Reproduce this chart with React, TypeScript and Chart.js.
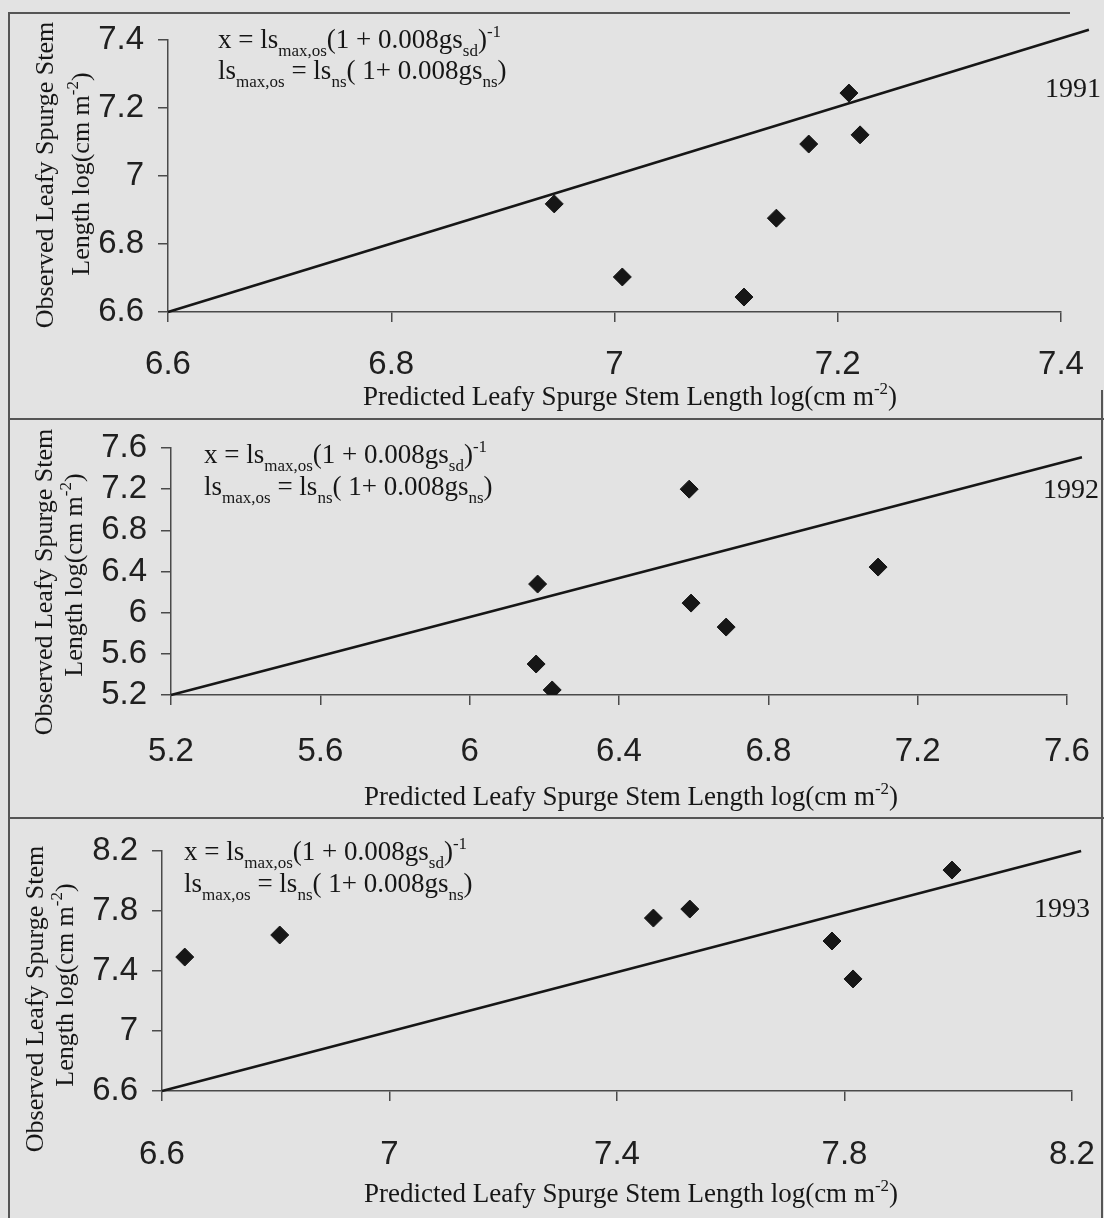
import React, { useEffect, useRef } from 'react';
import { Chart, registerables } from 'chart.js';
Chart.register(...registerables);

// ---------------- data ----------------
const years = ['1991', '1992', '1993'];

const xTicks1991 = [6.6, 6.8, 7, 7.2, 7.4];
const yTicks1991 = [6.6, 6.8, 7, 7.2, 7.4];
const xTicks1992 = [5.2, 5.6, 6, 6.4, 6.8, 7.2, 7.6];
const yTicks1992 = [5.2, 5.6, 6, 6.4, 6.8, 7.2, 7.6];
const xTicks1993 = [6.6, 7, 7.4, 7.8, 8.2];
const yTicks1993 = [6.6, 7, 7.4, 7.8, 8.2];

const predicted1991 = [6.946, 7.007, 7.116, 7.145, 7.174, 7.21, 7.22];
const observed1991 = [6.918, 6.703, 6.644, 6.876, 7.094, 7.244, 7.121];
const predicted1992 = [6.182, 6.178, 6.221, 6.588, 6.593, 6.687, 7.094];
const observed1992 = [6.278, 5.501, 5.249, 7.2, 6.093, 5.86, 6.443];
const predicted1993 = [6.64, 6.807, 7.464, 7.528, 7.778, 7.815, 7.989];
const observed1993 = [7.493, 7.64, 7.753, 7.813, 7.6, 7.347, 8.073];

const lineX1991 = [6.6, 7.425];
const lineY1991 = [6.6, 7.43];
const lineX1992 = [5.2, 7.64];
const lineY1992 = [5.2, 7.51];
const lineX1993 = [6.6, 8.216];
const lineY1993 = [6.6, 8.2];

type Seg = { t: string; k?: 'sub' | 'sup' };
const eqLine1: Seg[] = [
  { t: 'x = ls' }, { t: 'max,os', k: 'sub' }, { t: '(1 + 0.008gs' }, { t: 'sd', k: 'sub' }, { t: ')' }, { t: '-1', k: 'sup' },
];
const eqLine2: Seg[] = [
  { t: 'ls' }, { t: 'max,os', k: 'sub' }, { t: ' = ls' }, { t: 'ns', k: 'sub' }, { t: '( 1+ 0.008gs' }, { t: 'ns', k: 'sub' }, { t: ')' },
];
const xTitle: Seg[] = [{ t: 'Predicted Leafy Spurge Stem Length log(cm m' }, { t: '-2', k: 'sup' }, { t: ')' }];
const yTitle1: Seg[] = [{ t: 'Observed Leafy Spurge Stem' }];
const yTitle2: Seg[] = [{ t: 'Length log(cm m' }, { t: '-2', k: 'sup' }, { t: ')' }];

// ---------------- styling / layout ----------------
const SERIF = '"Liberation Serif", "Times New Roman", serif';
const SANS = '"Liberation Sans", Arial, sans-serif';
const INK = '#161616';
const AXIS = '#4a4a4a';
const BG = '#e3e3e3';

interface PanelCfg {
  year: string;
  xTicks: number[];
  yTicks: number[];
  px: number[];
  py: number[];
  lx: number[];
  ly: number[];
  top: number;
  h: number;
  area: { l: number; r: number; t: number; b: number };
  xPad: number;
  eq: { x: number; b1: number; b2: number };
  yr: { r: number; b: number };
  xt: { x: number; b: number };
  yt: { b1: number; b2: number; c1: number; c2: number };
}

const panels: PanelCfg[] = [
  {
    year: years[0], xTicks: xTicks1991, yTicks: yTicks1991, px: predicted1991, py: observed1991, lx: lineX1991, ly: lineY1991,
    top: 0, h: 419, area: { l: 168, r: 1061, t: 40, b: 312 }, xPad: 23,
    eq: { x: 218, b1: 48, b2: 79 }, yr: { r: 1101, b: 97 }, xt: { x: 363, b: 405 },
    yt: { b1: 53, b2: 89, c1: 175, c2: 174 },
  },
  {
    year: years[1], xTicks: xTicks1992, yTicks: yTicks1992, px: predicted1992, py: observed1992, lx: lineX1992, ly: lineY1992,
    top: 419, h: 399, area: { l: 171, r: 1067, t: 448, b: 695 }, xPad: 27,
    eq: { x: 204, b1: 463, b2: 495 }, yr: { r: 1099, b: 498 }, xt: { x: 364, b: 805 },
    yt: { b1: 52, b2: 82, c1: 582, c2: 575 },
  },
  {
    year: years[2], xTicks: xTicks1993, yTicks: yTicks1993, px: predicted1993, py: observed1993, lx: lineX1993, ly: lineY1993,
    top: 818, h: 400, area: { l: 162, r: 1072, t: 851, b: 1091 }, xPad: 34,
    eq: { x: 184, b1: 860, b2: 892 }, yr: { r: 1090, b: 917 }, xt: { x: 364, b: 1202 },
    yt: { b1: 43, b2: 73, c1: 999, c2: 985 },
  },
];

function segFont(size: number, k?: string) {
  return `${k ? Math.round(size * 0.64) : size}px ${SERIF}`;
}

function richWidth(ctx: CanvasRenderingContext2D, segs: Seg[], size: number) {
  let w = 0;
  for (const s of segs) {
    ctx.font = segFont(size, s.k);
    w += ctx.measureText(s.t).width;
  }
  return w;
}

function drawRich(ctx: CanvasRenderingContext2D, segs: Seg[], x: number, y: number, size: number, align: 'left' | 'center' | 'right') {
  const w = richWidth(ctx, segs, size);
  let cx = align === 'left' ? x : align === 'center' ? x - w / 2 : x - w;
  ctx.textAlign = 'left';
  ctx.textBaseline = 'alphabetic';
  for (const s of segs) {
    ctx.font = segFont(size, s.k);
    const dy = s.k === 'sub' ? size * 0.3 : s.k === 'sup' ? -size * 0.42 : 0;
    ctx.fillText(s.t, cx, y + dy);
    cx += ctx.measureText(s.t).width;
  }
}

function Panel({ cfg }: { cfg: PanelCfg }) {
  const ref = useRef<HTMLCanvasElement | null>(null);
  useEffect(() => {
    const canvas = ref.current;
    if (!canvas) return;
    const W = 1104;
    const H = cfg.h;
    const off = cfg.top;
    const areaTop = cfg.area.t - off;
    const areaBottom = cfg.area.b - off;

    const textPlugin = {
      id: 'panelText',
      afterDraw(chart: any) {
        const ctx: CanvasRenderingContext2D = chart.ctx;
        ctx.save();
        ctx.fillStyle = INK;
        drawRich(ctx, eqLine1, cfg.eq.x, cfg.eq.b1 - off, 27, 'left');
        drawRich(ctx, eqLine2, cfg.eq.x, cfg.eq.b2 - off, 27, 'left');
        ctx.font = `28px ${SERIF}`;
        ctx.textAlign = 'right';
        ctx.textBaseline = 'alphabetic';
        ctx.fillText(cfg.year, cfg.yr.r, cfg.yr.b - off);
        drawRich(ctx, xTitle, cfg.xt.x, cfg.xt.b - off, 27, 'left');
        ctx.save();
        ctx.translate(cfg.yt.b1, cfg.yt.c1 - off);
        ctx.rotate(-Math.PI / 2);
        drawRich(ctx, yTitle1, 0, 0, 26, 'center');
        ctx.restore();
        ctx.save();
        ctx.translate(cfg.yt.b2, cfg.yt.c2 - off);
        ctx.rotate(-Math.PI / 2);
        drawRich(ctx, yTitle2, 0, 0, 26, 'center');
        ctx.restore();
        ctx.restore();
      },
    };

    const tickFont = { family: SANS, size: 33 };
    const chart = new Chart(canvas, {
      type: 'scatter',
      data: {
        datasets: [
          {
            type: 'scatter',
            data: cfg.px.map((x, i) => ({ x, y: cfg.py[i] })),
            pointStyle: 'rectRot',
            pointRadius: 9,
            pointBackgroundColor: INK,
            pointBorderColor: INK,
            pointBorderWidth: 1,
          },
          {
            type: 'line',
            data: cfg.lx.map((x, i) => ({ x, y: cfg.ly[i] })),
            showLine: true,
            borderColor: INK,
            borderWidth: 2.6,
            pointRadius: 0,
            fill: false,
            clip: false as any,
          },
        ],
      } as any,
      options: {
        animation: false,
        responsive: false,
        devicePixelRatio: 1,
        layout: { padding: { left: 0, top: areaTop, right: W - cfg.area.r, bottom: 0 } },
        plugins: { legend: { display: false }, tooltip: { enabled: false } },
        events: [],
        scales: {
          x: {
            type: 'linear',
            position: 'bottom',
            min: cfg.xTicks[0],
            max: cfg.xTicks[cfg.xTicks.length - 1],
            afterBuildTicks: (s: any) => { s.ticks = cfg.xTicks.map((v) => ({ value: v })); },
            afterFit: (s: any) => {
              s.height = H - areaBottom;
              s.paddingLeft = 0;
              s.paddingRight = 0;
            },
            ticks: { font: tickFont, color: '#202020', padding: cfg.xPad, autoSkip: false, maxRotation: 0, callback: (v: any) => String(v) },
            grid: { drawOnChartArea: false, drawTicks: true, tickLength: 10, color: AXIS, lineWidth: 1.5 },
            border: { display: true, color: AXIS, width: 1.5 },
          },
          y: {
            type: 'linear',
            position: 'left',
            min: cfg.yTicks[0],
            max: cfg.yTicks[cfg.yTicks.length - 1],
            afterBuildTicks: (s: any) => { s.ticks = cfg.yTicks.map((v) => ({ value: v })); },
            afterFit: (s: any) => {
              s.width = cfg.area.l;
              s.paddingTop = 0;
              s.paddingBottom = 0;
            },
            ticks: { font: tickFont, color: '#202020', padding: 14, autoSkip: false, callback: (v: any) => String(v) },
            grid: { drawOnChartArea: false, drawTicks: true, tickLength: 10, color: AXIS, lineWidth: 1.5 },
            border: { display: true, color: AXIS, width: 1.5 },
          },
        },
      } as any,
      plugins: [textPlugin],
    });
    return () => chart.destroy();
  }, [cfg]);
  return (
    <canvas
      ref={ref}
      width={1104}
      height={cfg.h}
      style={{ position: 'absolute', left: 0, top: cfg.top, width: 1104, height: cfg.h }}
    />
  );
}

const frameLine = (l: number, t: number, w: number, h: number): React.CSSProperties => ({
  position: 'absolute', left: l, top: t, width: w, height: h, background: '#555',
});

export default function App() {
  return (
    <div style={{ position: 'absolute', left: 0, top: 0, width: 1104, height: 1218, background: BG, overflow: 'hidden' }}>
      <div style={frameLine(8, 12, 1062, 1.5)} />
      <div style={frameLine(8, 12, 1.5, 1206)} />
      <div style={frameLine(8, 418, 1096, 1.5)} />
      <div style={frameLine(8, 817, 1096, 1.5)} />
      <div style={frameLine(1101, 390, 1.5, 828)} />
      {panels.map((p) => (
        <Panel key={p.year} cfg={p} />
      ))}
    </div>
  );
}
